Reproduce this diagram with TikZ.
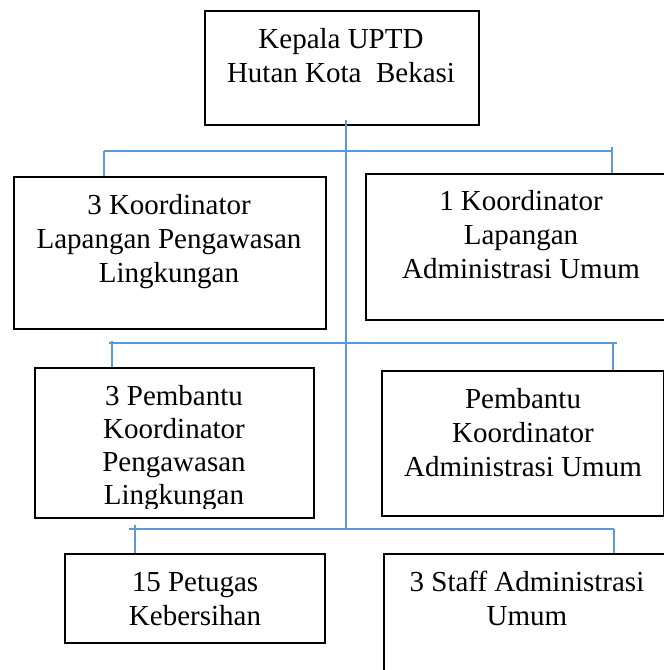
\documentclass[tikz,border=0pt]{standalone}
\usepackage{fontspec}
\setmainfont{Liberation Serif}
\definecolor{linkblue}{RGB}{91,155,213}
\begin{document}
\begin{tikzpicture}[x=1pt,y=-1pt,
  box/.style={draw=black,line width=1.6pt,inner sep=0pt,anchor=north west},
  lbl/.style={font=\fontsize{29}{34}\selectfont,align=center,anchor=base,inner sep=0pt},
  link/.style={draw=linkblue,line width=1.2pt}]
\useasboundingbox (0,0) rectangle (664,670);
\clip (0,0) rectangle (664,670);
% connectors
\coordinate (s0) at (346,120);
\coordinate (e0) at (346,529);
\coordinate (h1l) at (104,151);
\coordinate (h1r) at (613,151);
\coordinate (h1t) at (612,147);
\coordinate (h2l) at (109,343);
\coordinate (h2r) at (617,343);
\coordinate (h2t) at (112,341);
\coordinate (h2u) at (613,343);
\coordinate (h3l) at (129,529);
\coordinate (h3r) at (614,529);
\coordinate (h3t) at (135,525);
% boxes
\node[box,minimum width=274pt,minimum height=114pt] (top) at (204,10) {};
\node[box,minimum width=312pt,minimum height=152pt] (L1) at (13,176) {};
\node[box,minimum width=312pt,minimum height=146pt] (R1) at (365,173) {};
\node[box,minimum width=279pt,minimum height=150pt] (L2) at (34,367) {};
\node[box,minimum width=282pt,minimum height=145pt] (R2) at (381,370) {};
\node[box,minimum width=260pt,minimum height=89pt] (L3) at (64,553) {};
\node[box,minimum width=288pt,minimum height=150pt] (R3) at (383,553) {};
% lines
\draw[link] (s0) -- (e0);
\draw[link] (h1l) -- (h1r);
\draw[link] (h1l) -- (h1l |- L1.north);
\draw[link] (h1t) -- (h1t |- R1.north);
\draw[link] (h2l) -- (h2r);
\draw[link] (h2t) -- (h2t |- L2.north);
\draw[link] (h2u) -- (h2u |- R2.north);
\draw[link] (h3l) -- (h3r);
\draw[link] (h3t) -- (h3t |- L3.north);
\draw[link] (h3r) -- (h3r |- R3.north);
% texts (anchor = baseline of last line)
\node[lbl] (topt) at (341,82) {Kepala UPTD\\Hutan Kota~~Bekasi};
\node[lbl] (L1t) at (169,282) {3 Koordinator\\Lapangan Pengawasan\\Lingkungan};
\node[lbl] (R1t) at (521,278) {1 Koordinator\\Lapangan\\Administrasi Umum};
\begin{scope}
\clip (34,367) rectangle (313,508);
\node[lbl,font=\fontsize{29}{33}\selectfont] (L2t) at (174,504) {3 Pembantu\\Koordinator\\Pengawasan\\Lingkungan};
\end{scope}
\node[lbl] (R2t) at (523,476) {Pembantu\\Koordinator\\Administrasi Umum};
\node[lbl] (L3t) at (195,625) {15 Petugas\\Kebersihan};
\node[lbl] (R3t) at (527,625) {3 Staff Administrasi\\Umum};
\end{tikzpicture}
\end{document}
